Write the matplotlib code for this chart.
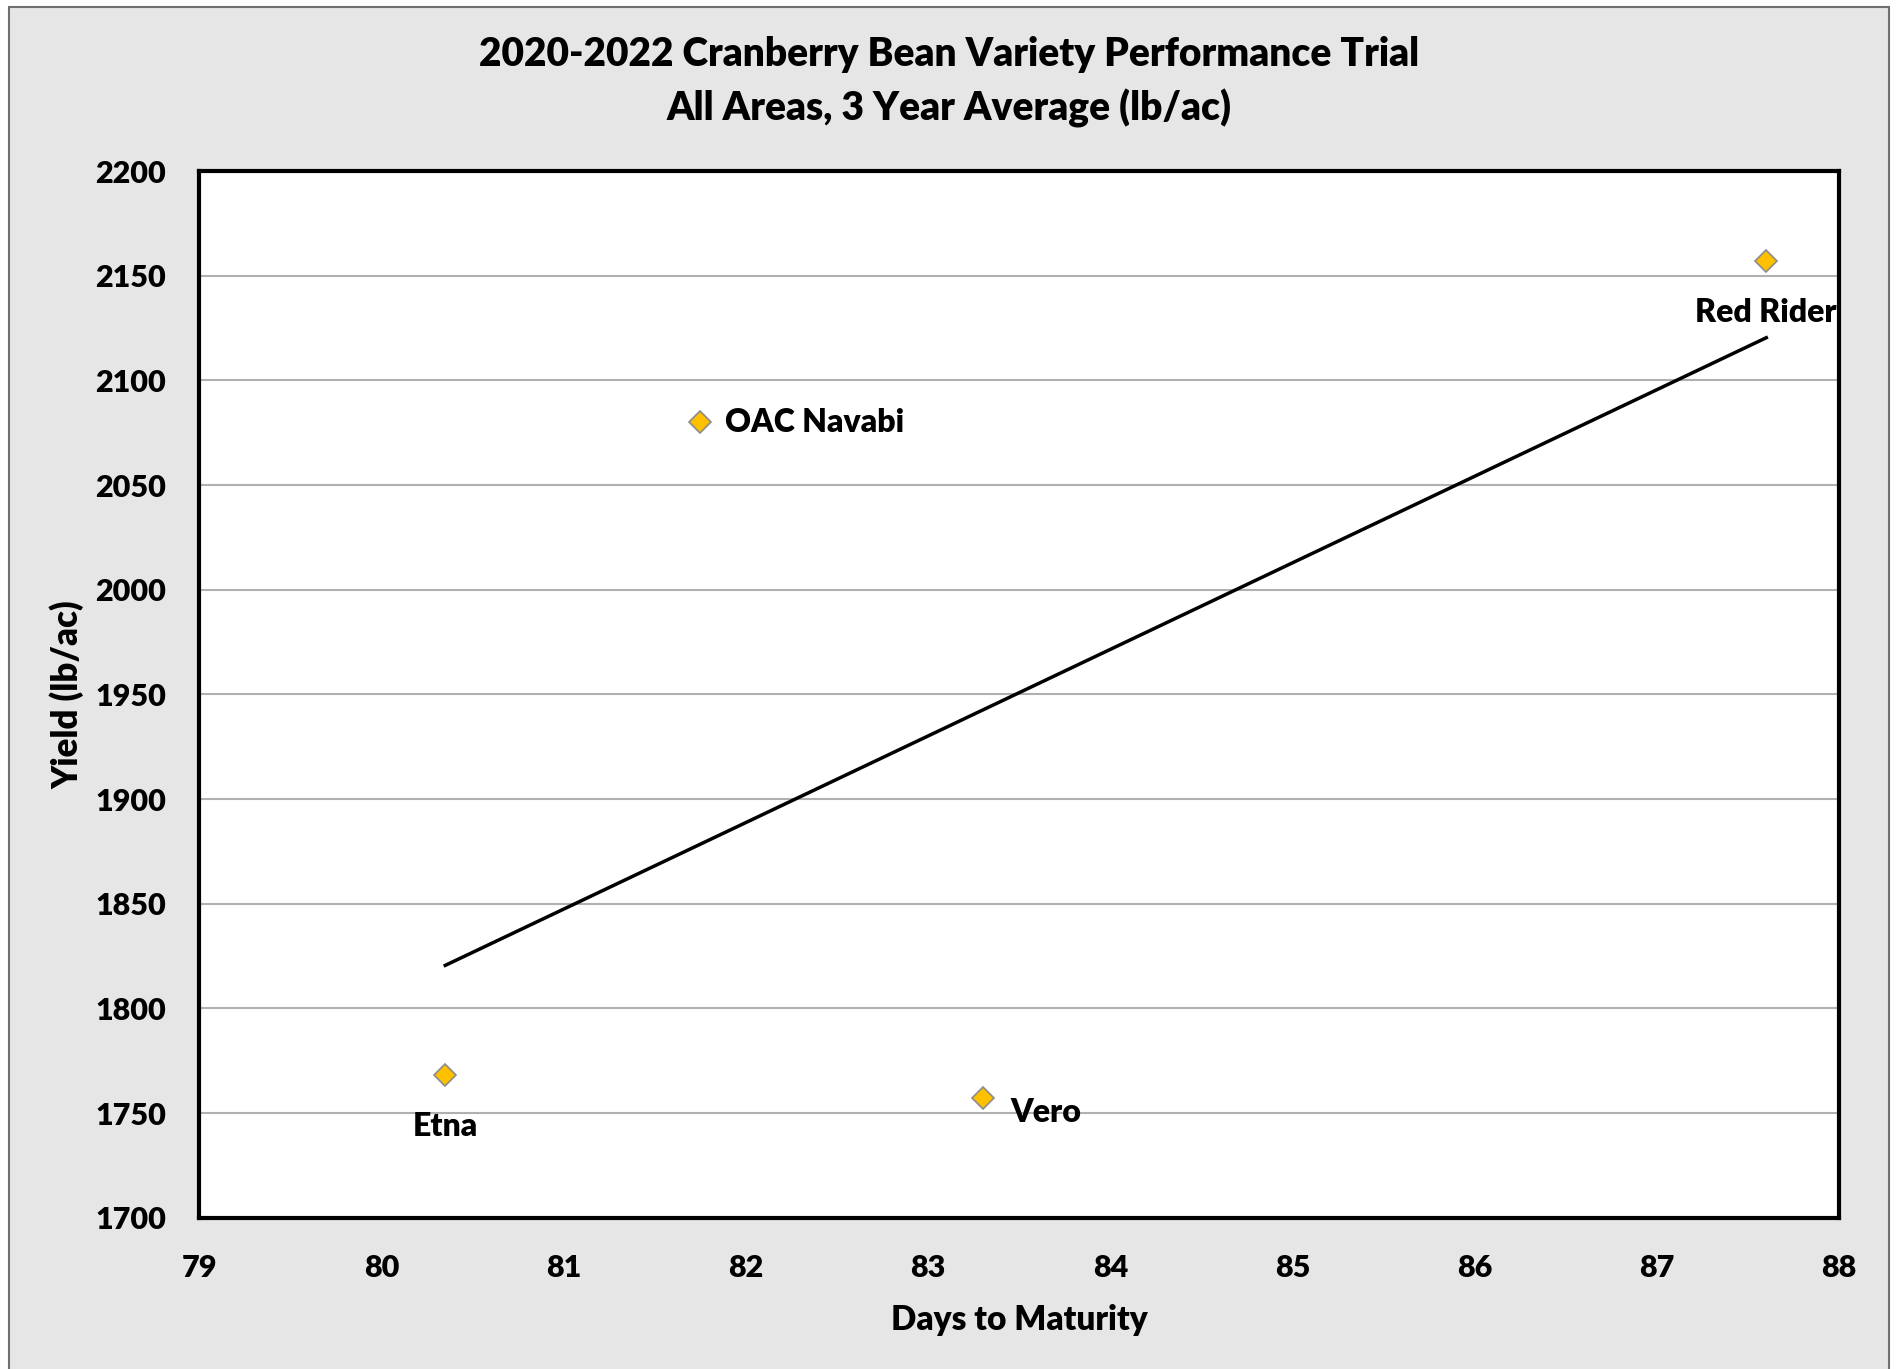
import matplotlib.pyplot as plt
import numpy as np
from matplotlib.patches import Rectangle

varieties = ['Etna', 'OAC Navabi', 'Vero', 'Red Rider']
days = [80.35, 81.75, 83.3, 87.6]
yields = [1768, 2080, 1757, 2157]
# label offsets in points (dx, dy) and alignment
lbl_off = [(0, -37), (18, 0), (20, -10), (0, -37)]
lbl_ha = ['center', 'left', 'left', 'center']

plt.rcParams['font.family'] = ['Lato', 'DejaVu Sans']
plt.rcParams['font.weight'] = 'bold'

fig = plt.figure(figsize=(18.98, 13.69), dpi=100, facecolor='white')
fig.patches.append(Rectangle((0.005, -0.01), 0.99, 1.005, transform=fig.transFigure,
                             facecolor='#e6e6e6', edgecolor='#707070', lw=1.5, zorder=-10))

ax = fig.add_axes([0.105, 0.1105, 0.864, 0.7645])
ax.set_facecolor('white')

# trendline (least squares) over the data range
coef = np.polyfit(days, yields, 1)
xs = np.array([min(days), max(days)])
ax.plot(xs, np.polyval(coef, xs), color='black', lw=2.5, zorder=3)

ax.plot(days, yields, linestyle='none', marker='D', markersize=11.5,
        markerfacecolor='#ffc000', markeredgecolor='#8c8c8c', markeredgewidth=1.2, zorder=4)

for name, x, y, off, ha in zip(varieties, days, yields, lbl_off, lbl_ha):
    ax.annotate(name, (x, y), xytext=off, textcoords='offset points',
                ha=ha, va='center', fontsize=23, fontweight='heavy', clip_on=True, zorder=5)

ax.set_xlim(79, 88)
ax.set_ylim(1700, 2200)
ax.set_xticks(np.arange(79, 89, 1))
ax.set_yticks(np.arange(1700, 2201, 50))
ax.grid(axis='y', color='#b0b0b0', lw=1.5, zorder=0)
ax.set_axisbelow(True)
ax.tick_params(length=0, labelsize=22, pad=24)
for t in ax.get_xticklabels() + ax.get_yticklabels():
    t.set_fontweight('heavy')
ax.tick_params(axis='x', pad=26)
for s in ax.spines.values():
    s.set_linewidth(3)
    s.set_color('black')
    s.set_zorder(6)

ax.set_xlabel('Days to Maturity', fontsize=24, fontweight='heavy', labelpad=16)
ax.set_ylabel('Yield (lb/ac)', fontsize=25, fontweight='heavy', labelpad=8)

fig.text(0.5, 0.960, '2020-2022 Cranberry Bean Variety Performance Trial',
         ha='center', va='center', fontsize=28, fontweight='heavy')
fig.text(0.5, 0.921, 'All Areas, 3 Year Average (lb/ac)',
         ha='center', va='center', fontsize=28, fontweight='heavy')

fig.savefig('out.png', dpi=100, facecolor=fig.get_facecolor())
